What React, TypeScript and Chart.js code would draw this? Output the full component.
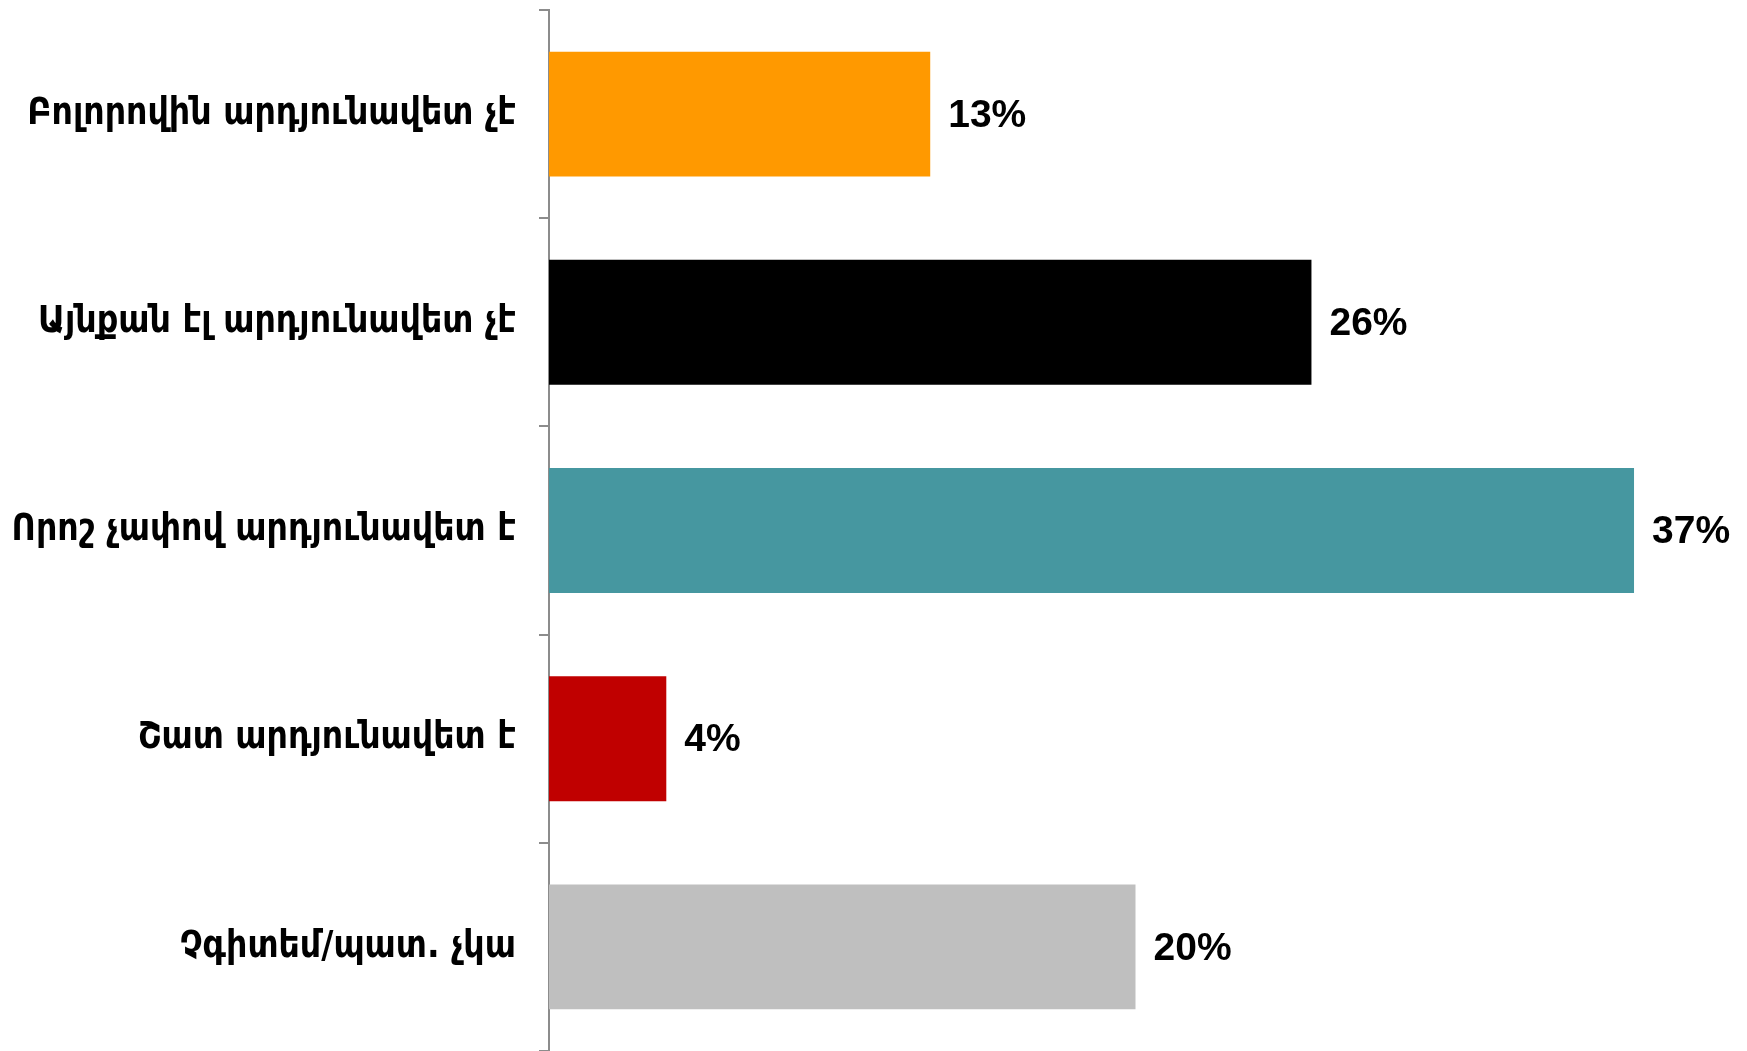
import React, { useEffect, useRef } from "react";
import { Chart, registerables } from "chart.js";

Chart.register(...registerables);

const categories = [
  "Բոլորովին արդյունավետ չէ",
  "Այնքան էլ արդյունավետ չէ",
  "Որոշ չափով արդյունավետ է",
  "Շատ արդյունավետ է",
  "Չգիտեմ/պատ. չկա",
];
const values = [13, 26, 37, 4, 20];
const barColors = ["#FF9900", "#000000", "#4697A0", "#C00000", "#BFBFBF"];
const valueLabels = ["13%", "26%", "37%", "4%", "20%"];

const dataLabelPlugin = {
  id: "dataLabels",
  afterDatasetsDraw(chart: any) {
    const ctx = chart.ctx;
    const meta = chart.getDatasetMeta(0);
    ctx.save();
    ctx.font = "bold 39px 'Liberation Sans', Arial, sans-serif";
    ctx.fillStyle = "#000000";
    ctx.textAlign = "left";
    ctx.textBaseline = "middle";
    meta.data.forEach((el: any, i: number) => {
      ctx.fillText(valueLabels[i], el.x + 18, el.y + 2);
    });
    ctx.restore();
  },
};

export default function App() {
  const ref = useRef<HTMLCanvasElement | null>(null);
  useEffect(() => {
    document.body.style.margin = "0";
    const chart = new Chart(ref.current as HTMLCanvasElement, {
      type: "bar",
      data: {
        labels: categories,
        datasets: [
          {
            data: values,
            backgroundColor: barColors,
            borderWidth: 0,
            categoryPercentage: 1,
            barPercentage: 0.6,
          },
        ],
      },
      options: {
        indexAxis: "y",
        animation: false,
        responsive: false,
        maintainAspectRatio: false,
        layout: { padding: { top: 10, right: 25, bottom: 0, left: 0 } },
        plugins: { legend: { display: false }, tooltip: { enabled: false } },
        scales: {
          x: { display: false, min: 0, max: 40 },
          y: {
            afterFit(scale: any) {
              scale.width = 549;
              scale.paddingTop = 0;
              scale.paddingBottom = 0;
            },
            border: { display: true, color: "#8C8C8C", width: 2 },
            grid: {
              display: true,
              drawOnChartArea: false,
              drawTicks: true,
              tickLength: 10,
              color: "#8C8C8C",
              lineWidth: 2,
              offset: true,
            },
            ticks: {
              color: "#000000",
              padding: 23,
              font: { family: "'DejaVu Sans Condensed', 'DejaVu Sans', sans-serif", size: 37, weight: "bold" },
            },
          },
        },
      },
      plugins: [dataLabelPlugin],
    });
    return () => chart.destroy();
  }, []);
  return (
    <div style={{ width: 1747, height: 1051 }}>
      <canvas ref={ref} width={1747} height={1051} style={{ display: "block" }} />
    </div>
  );
}
